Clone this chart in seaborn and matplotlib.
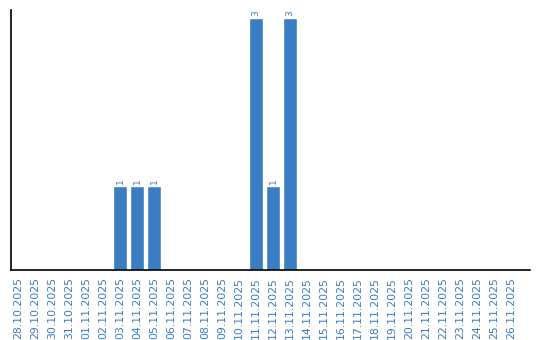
import matplotlib
matplotlib.use("Agg")
import matplotlib.pyplot as plt
import seaborn as sns
import pandas as pd

dates = ["28.10.2025", "29.10.2025", "30.10.2025", "31.10.2025"] + \
        [f"{d:02d}.11.2025" for d in range(1, 27)]
values = [0, 0, 0, 0, 0, 0, 1, 1, 1, 0, 0, 0, 0, 0, 3, 1, 3,
          0, 0, 0, 0, 0, 0, 0, 0, 0, 0, 0, 0, 0]

bar_color = "#3a7dc2"
text_color = "#3a7dc2"

sns.set_style("white")
plt.rcParams['font.family'] = ['DejaVu Sans']

df = pd.DataFrame({"date": dates, "value": values})

fig = plt.figure(figsize=(5.4, 3.4), dpi=100)
ax = fig.add_axes([11/540, 1 - 270/340, (530 - 11)/540, 260/340])
sns.barplot(data=df, x="date", y="value", color=bar_color, saturation=1,
            width=0.84, ax=ax)

for i, v in enumerate(values):
    if v > 0:
        ax.text(i, v + 0.03, str(v), rotation=90, ha="center", va="bottom",
                fontsize=6.5, color=text_color)

ax.set_xlim(-0.41, 30.12)
ax.set_ylim(0, 3.1)
ax.set_xlabel("")
ax.set_ylabel("")
ax.set_yticks([])
ax.tick_params(axis="x", length=0, pad=5, labelsize=7.8, labelcolor=text_color,
               labelrotation=90)
for s in ["top", "right"]:
    ax.spines[s].set_visible(False)
for s in ["left", "bottom"]:
    ax.spines[s].set_color("black")
    ax.spines[s].set_linewidth(1.2)

fig.savefig("out.png", dpi=100)
